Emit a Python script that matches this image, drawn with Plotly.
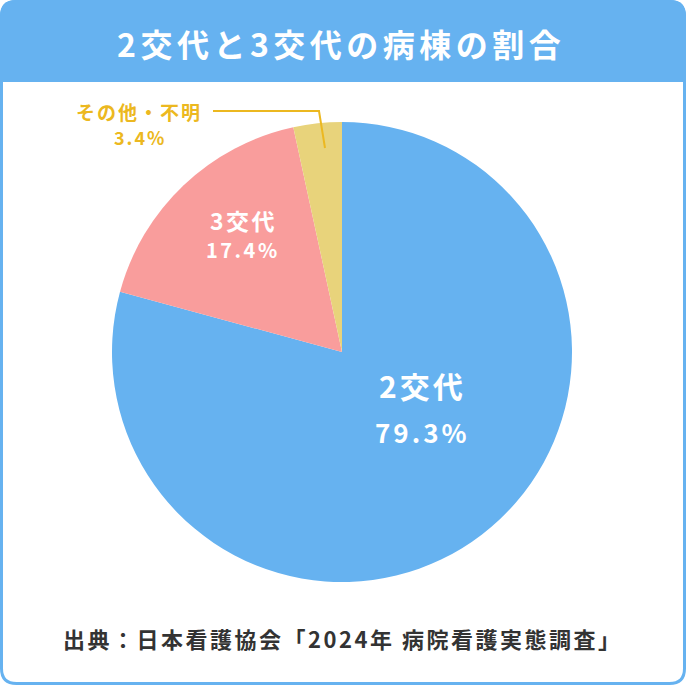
import plotly.graph_objects as go

W = H = 686
BLUE = "#66b2f0"

labels = ["2交代", "3交代", "その他・不明"]
values = [79.3, 17.4, 3.4]
colors = [BLUE, "#f99d9c", "#e8d37b"]

title = "2交代と3交代の病棟の割合"
source = "出典：日本看護協会「2024年 病院看護実態調査」"
FONT = "Noto Sans CJK JP"


def px(x, y):
    # pixel -> paper coords
    return x / W, 1 - y / H


def sp(text, ls):
    return f'<span style="letter-spacing:{ls}px">{text}</span>'


def rounded_path(x0, y0, x1, y1, r, bottom_round=True):
    def p(x, y):
        a, b = px(x, y)
        return f"{a:.5f},{b:.5f}"
    d = f"M{p(x0, y0 + r)} Q{p(x0, y0)} {p(x0 + r, y0)} L{p(x1 - r, y0)} Q{p(x1, y0)} {p(x1, y0 + r)} "
    if bottom_round:
        d += f"L{p(x1, y1 - r)} Q{p(x1, y1)} {p(x1 - r, y1)} L{p(x0 + r, y1)} Q{p(x0, y1)} {p(x0, y1 - r)} Z"
    else:
        d += f"L{p(x1, y1)} L{p(x0, y1)} Z"
    return d


def texto(t, cx, cy, size, color):
    x, y = px(cx, cy)
    fig.add_annotation(text=t, x=x, y=y, xref="paper", yref="paper", showarrow=False,
                       xanchor="center", yanchor="middle",
                       font=dict(family=FONT, size=size, color=color))


fig = go.Figure()
fig.add_trace(go.Pie(labels=labels, values=values, sort=False, direction="clockwise", rotation=0,
                     marker=dict(colors=colors, line=dict(width=0)), textinfo="none",
                     hoverinfo="skip", showlegend=False,
                     domain=dict(x=[112 / W, 572 / W], y=[1 - 582 / H, 1 - 122 / H])))

# cabecera y borde
fig.add_shape(type="path", path=rounded_path(0, 0, W, 82, 16, bottom_round=False),
              xref="paper", yref="paper", fillcolor=BLUE, line=dict(width=0), layer="below")
fig.add_shape(type="path", path=rounded_path(1.5, 1.5, W - 1.5, H - 2.5, 15),
              xref="paper", yref="paper", fillcolor="rgba(0,0,0,0)", line=dict(color=BLUE, width=3))

texto(sp(f"<b>{title}</b>", 4.5), 341, 43, 32, "white")

# etiquetas
pos = [((422, 385), (422, 431), 30, 26, "white", 3),
       ((243, 220), (243, 249), 23, 20, "white", 2.5),
       ((139, 111), (140, 137), 19, 18, "#ecb820", 2)]
for lab, v, (p1, p2, s1, s2, c, ls) in zip(labels, values, pos):
    texto(sp(f"<b>{lab}</b>", ls), p1[0], p1[1], s1, c)
    texto(sp(f"<b>{v}%</b>", ls), p2[0], p2[1], s2, c)

# conector de "otros"
pts = [px(213, 111), px(319, 111), px(325, 148)]
fig.add_shape(type="path", xref="paper", yref="paper",
              path="M" + " L".join(f"{a:.5f},{b:.5f}" for a, b in pts),
              line=dict(color="#ecb820", width=2))

texto(sp(f"<b>{source}</b>", 2.5), 342, 638, 22, "#333333")

fig.update_layout(width=W, height=H, margin=dict(l=0, r=0, t=0, b=0),
                  paper_bgcolor="white", plot_bgcolor="white")
fig.write_html("out.html", config={"displayModeBar": False},
               post_script="document.body.style.margin='0';")
